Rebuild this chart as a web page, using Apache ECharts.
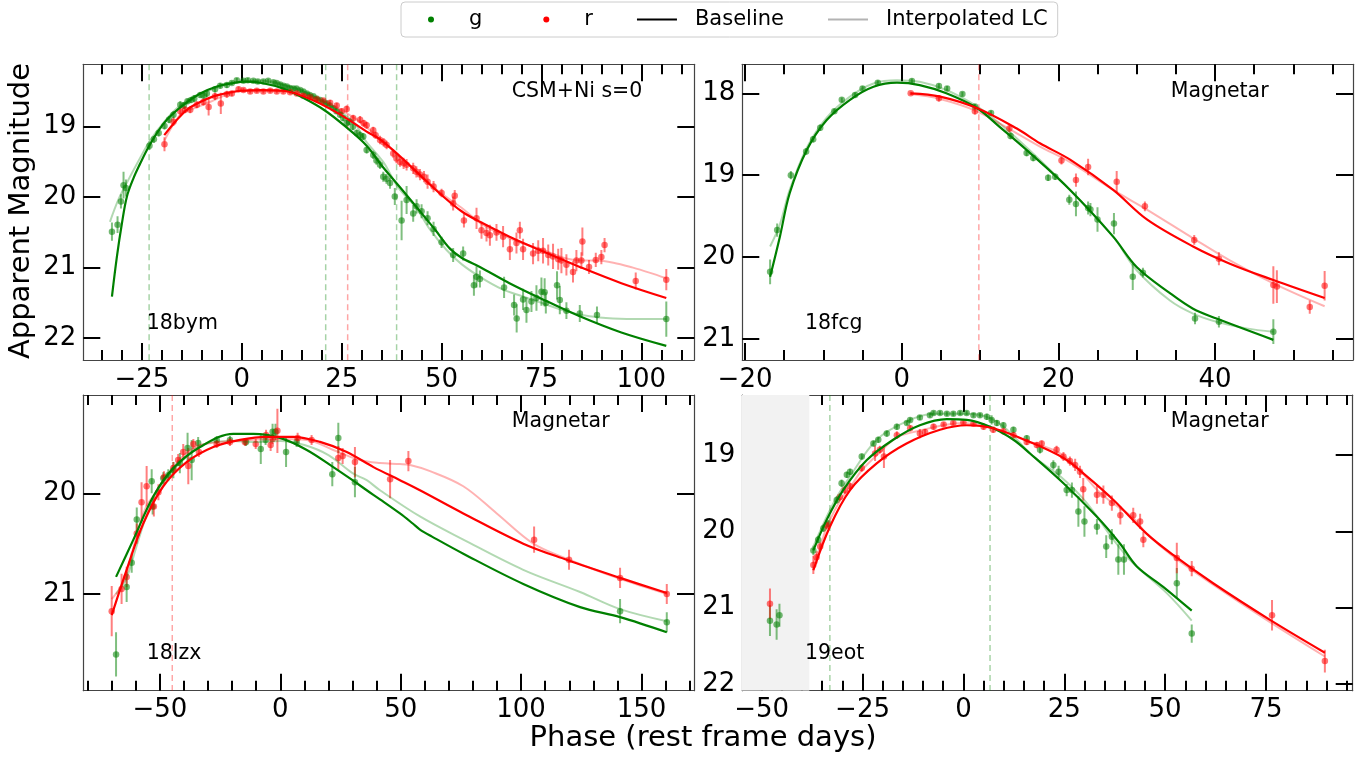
<!DOCTYPE html>
<html><head><meta charset="utf-8">
<script src="https://cdn.jsdelivr.net/npm/echarts@6.0.0/dist/echarts.min.js"></script>
<style>html,body{margin:0;padding:0;background:#fff}#c{width:1369px;height:760px}</style>
</head><body><div id="c"></div>
<script>
// ---------- DATA ----------
// points: [phase, magnitude, error]; curves: [phase, magnitude]
const p1_g = [[-32.5,20.49,0.13],[-31.1,20.39,0.12],[-30.25,20.06,0.1],[-29.6,19.83,0.19],[-29.0,19.87,0.12],[-23.1,19.27,0.06],[-22.0,19.18,0.05],[-20.8,19.09,0.05],[-19.35,18.99,0.05],[-18.2,18.9,0.05],[-17.1,18.83,0.05],[-15.4,18.69,0.05],[-14.5,18.7,0.05],[-13.6,18.64,0.04],[-12.7,18.62,0.04],[-11.9,18.6,0.05],[-10.4,18.55,0.04],[-9.5,18.56,0.04],[-8.75,18.53,0.05],[-6.7,18.47,0.04],[-5.4,18.42,0.04],[-3.75,18.41,0.04],[-2.5,18.38,0.03],[-1.25,18.34,0.03],[0.4,18.35,0.03],[1.5,18.34,0.03],[2.9,18.35,0.03],[4.0,18.36,0.03],[5.4,18.36,0.03],[6.6,18.35,0.03],[7.9,18.37,0.03],[8.7,18.38,0.03],[9.6,18.4,0.03],[10.4,18.42,0.03],[11.25,18.43,0.03],[12.0,18.45,0.03],[12.9,18.46,0.03],[13.7,18.46,0.03],[14.6,18.48,0.03],[15.4,18.5,0.03],[16.25,18.53,0.03],[17.0,18.55,0.03],[17.9,18.57,0.03],[18.7,18.6,0.03],[19.6,18.62,0.03],[20.4,18.65,0.03],[21.25,18.67,0.04],[22.0,18.7,0.04],[22.9,18.74,0.04],[23.7,18.78,0.04],[24.6,18.83,0.04],[25.4,18.88,0.04],[26.25,18.95,0.05],[26.9,18.93,0.05],[27.8,19.0,0.05],[28.75,19.09,0.05],[29.6,19.12,0.05],[30.4,19.14,0.05],[31.25,19.33,0.05],[32.9,19.4,0.06],[33.7,19.48,0.06],[34.6,19.54,0.06],[35.4,19.71,0.07],[36.2,19.74,0.07],[37.1,19.8,0.08],[38.3,19.99,0.12],[40.0,20.33,0.28],[41.25,20.04,0.2],[42.9,20.23,0.12],[43.75,20.13,0.1],[45.0,20.2,0.1],[46.5,20.3,0.1],[48.0,20.45,0.1],[50.0,20.64,0.08],[52.9,20.82,0.1],[55.4,20.8,0.1],[58.1,21.25,0.15],[58.75,21.13,0.15],[59.6,21.16,0.12],[65.65,21.28,0.15],[68.15,21.53,0.15],[68.8,21.72,0.2],[70.4,21.45,0.15],[71.25,21.6,0.18],[72.5,21.48,0.15],[73.75,21.43,0.18],[75.0,21.34,0.2],[75.8,21.35,0.2],[76.1,21.5,0.15],[78.9,21.25,0.2],[79.6,21.46,0.2],[81.25,21.61,0.12],[84.6,21.65,0.12],[88.9,21.67,0.12],[106.25,21.73,0.25]];
const p1_r = [[-19.35,19.25,0.1],[-17.1,18.93,0.06],[-15.4,18.78,0.05],[-14.2,18.76,0.05],[-12.9,18.76,0.05],[-11.25,18.69,0.05],[-9.6,18.65,0.05],[-8.3,18.72,0.12],[-6.7,18.57,0.05],[-5.25,18.67,0.15],[-3.75,18.54,0.05],[-2.5,18.53,0.04],[-0.8,18.47,0.04],[0.4,18.48,0.03],[2.1,18.5,0.03],[3.75,18.49,0.03],[5.4,18.5,0.03],[7.1,18.49,0.03],[8.75,18.5,0.03],[10.4,18.5,0.03],[12.1,18.51,0.03],[13.75,18.53,0.03],[15.4,18.56,0.03],[17.1,18.58,0.03],[18.75,18.61,0.03],[20.4,18.63,0.03],[22.1,18.66,0.04],[23.75,18.7,0.04],[25.0,18.78,0.04],[26.25,18.75,0.05],[27.9,18.88,0.05],[29.6,18.9,0.05],[30.5,18.95,0.05],[31.25,18.98,0.05],[32.9,19.05,0.05],[33.5,19.12,0.05],[34.6,19.19,0.06],[35.5,19.22,0.06],[36.25,19.26,0.06],[37.9,19.38,0.06],[38.7,19.45,0.07],[39.6,19.5,0.07],[40.5,19.52,0.08],[41.25,19.54,0.08],[42.9,19.59,0.08],[43.7,19.64,0.08],[44.6,19.68,0.08],[45.6,19.71,0.08],[46.5,19.78,0.1],[48.0,19.85,0.08],[50.0,19.94,0.06],[52.9,20.09,0.1],[53.3,19.98,0.08],[55.6,20.33,0.1],[58.75,20.3,0.15],[60.0,20.47,0.12],[61.25,20.51,0.12],[62.1,20.54,0.15],[63.75,20.5,0.12],[65.4,20.56,0.15],[67.1,20.74,0.15],[68.75,20.65,0.15],[69.6,20.47,0.12],[70.4,20.74,0.15],[72.9,20.8,0.15],[74.2,20.76,0.15],[75.4,20.76,0.18],[76.7,20.82,0.15],[77.9,20.84,0.18],[79.2,20.88,0.15],[80.0,20.9,0.18],[81.25,20.96,0.15],[82.9,21.06,0.15],[83.75,20.9,0.15],[85.0,20.9,0.12],[85.25,20.63,0.2],[86.9,20.99,0.1],[88.6,20.89,0.1],[90.0,20.85,0.1],[90.8,20.68,0.1],[98.6,21.19,0.12],[106.25,21.17,0.15]];
const p1_gBase = [[-32.5,21.41],[-31.25,20.84],[-30.0,20.37],[-28.75,19.99],[-27.1,19.73],[-25.4,19.52],[-23.75,19.33],[-21.25,19.09],[-18.75,18.9],[-14.6,18.69],[-10.4,18.53],[-6.25,18.43],[-2.1,18.38],[1,18.36],[5,18.38],[10.4,18.46],[15,18.58],[20.8,18.77],[26,19.0],[31.25,19.27],[35,19.55],[39.6,19.86],[44.6,20.2],[48.5,20.47],[52.1,20.73],[55,20.86],[59.6,20.99],[67,21.22],[74.6,21.43],[84.6,21.69],[95,21.92],[106.25,22.11]];
const p1_rBase = [[-19.4,19.12],[-16.5,18.92],[-13.75,18.76],[-10.4,18.65],[-7.1,18.57],[-3.5,18.52],[-0.25,18.49],[5,18.48],[10.4,18.49],[15,18.56],[19.6,18.67],[25,18.84],[31.25,19.07],[34.6,19.18],[39.6,19.42],[45,19.71],[49.6,19.95],[55,20.2],[59.6,20.35],[67,20.56],[74.6,20.75],[84.6,20.99],[95,21.22],[106.25,21.43]];
const p1_gInt = [[-33,20.35],[-31,20.05],[-29,19.82],[-26,19.5],[-23,19.2],[-20,18.97],[-16.25,18.74],[-12,18.57],[-7.9,18.48],[-4,18.4],[0.4,18.36],[5,18.35],[10,18.4],[14.6,18.48],[21.25,18.67],[27.9,18.93],[31,19.2],[35.4,19.5],[39,19.85],[43.75,20.16],[47,20.45],[51.25,20.75],[55,20.95],[59.6,21.13],[65,21.3],[70.4,21.41],[75,21.5],[81.25,21.62],[87,21.69],[92.9,21.72],[100,21.73],[106.25,21.73]];
const p1_rInt = [[-19.4,19.2],[-15,18.8],[-12,18.74],[-8,18.65],[-4,18.55],[0,18.49],[10,18.49],[20,18.63],[26,18.8],[30,18.95],[35,19.2],[40,19.45],[45,19.7],[50,19.95],[55,20.15],[60,20.38],[65,20.53],[70,20.65],[75,20.74],[81.25,20.87],[85,20.9],[88.75,20.9],[93,20.93],[97.9,21.0],[102,21.07],[106.25,21.15]];
const p1_vg = [-23.2, 21.0, 38.75];
const p1_vr = [26.5];

const p2_g = [[-16.8,20.18,0.15],[-15.9,19.67,0.08],[-14.15,19.0,0.05],[-12.2,18.71,0.04],[-11.3,18.56,0.04],[-10.4,18.42,0.04],[-8.6,18.22,0.03],[-7.65,18.08,0.03],[-5.95,18.02,0.03],[-5.0,17.94,0.03],[-3.05,17.87,0.03],[1.3,17.85,0.03],[4.75,17.91,0.03],[5.8,17.94,0.03],[7.75,18.01,0.03],[9.35,18.16,0.03],[11.4,18.24,0.03],[13.9,18.52,0.04],[15.95,18.73,0.04],[16.8,18.79,0.04],[18.7,19.03,0.04],[19.6,19.02,0.04],[21.4,19.3,0.06],[22.25,19.35,0.15],[23.8,19.4,0.08],[24.1,19.42,0.08],[25.0,19.54,0.15],[27.1,19.59,0.13],[29.5,20.24,0.16],[30.8,20.19,0.06],[37.45,20.75,0.07],[40.5,20.79,0.07],[47.45,20.91,0.15]];
const p2_r = [[1.15,18.0,0.02],[4.75,18.06,0.04],[9.35,18.22,0.04],[13.75,18.43,0.05],[20.4,18.82,0.05],[22.25,19.06,0.08],[23.8,18.9,0.1],[27.45,19.08,0.13],[31.05,19.38,0.06],[37.35,19.79,0.06],[40.5,20.02,0.08],[47.45,20.34,0.23],[47.9,20.36,0.2],[52.1,20.61,0.08],[54.0,20.35,0.18]];
const p2_gBase = [[-16.8,20.24],[-15.55,19.75],[-14.3,19.22],[-12.1,18.69],[-9.6,18.33],[-6.6,18.08],[-3.6,17.92],[-0.6,17.87],[2.3,17.9],[5.7,18.0],[9.6,18.18],[12.5,18.41],[16.4,18.73],[21.5,19.18],[27,19.75],[30,20.12],[34.25,20.44],[37.2,20.63],[40.2,20.75],[47.45,21.01]];
const p2_rBase = [[1.15,18.0],[4.9,18.04],[9.6,18.18],[14.7,18.43],[17.65,18.61],[21.5,18.81],[27,19.18],[31.3,19.54],[37.2,19.87],[41.9,20.08],[47.45,20.28],[54,20.5]];
const p2_gInt = [[-16.8,19.87],[-15.55,19.6],[-14.3,19.18],[-12.1,18.66],[-9.6,18.3],[-6.6,18.04],[-3.6,17.88],[-0.6,17.84],[2.3,17.86],[5.7,17.96],[9.6,18.16],[12.5,18.37],[16.4,18.7],[21.5,19.18],[27,19.75],[30,20.16],[34.25,20.53],[37.2,20.69],[40.2,20.79],[44,20.87],[47.45,20.91]];
const p2_rInt = [[1.15,18.01],[4.9,18.07],[9.6,18.22],[14.7,18.49],[17.65,18.65],[21.5,18.84],[27,19.18],[31.3,19.42],[37.2,19.77],[41.9,20.04],[47.45,20.32],[54,20.6]];
const p2_vg = [];
const p2_vr = [9.85];

const p3_g = [[-68.2,21.6,0.22],[-63.8,20.93,0.15],[-61.7,20.69,0.1],[-59.6,20.26,0.12],[-53.4,19.88,0.12],[-53.0,20.13,0.08],[-48.6,19.85,0.06],[-46.5,19.82,0.06],[-44.4,19.77,0.08],[-41.7,19.7,0.1],[-38.5,19.55,0.15],[-36.8,19.67,0.2],[-34.1,19.5,0.06],[-26.4,19.47,0.04],[-20.9,19.47,0.04],[-14.2,19.49,0.04],[-8.1,19.56,0.15],[-6.1,19.47,0.05],[-3.2,19.39,0.08],[-2.0,19.39,0.08],[2.4,19.59,0.15],[6.8,19.49,0.05],[21.6,19.81,0.12],[24.1,19.45,0.15],[31.0,19.89,0.15],[141.1,21.17,0.12],[160.5,21.28,0.1]];
const p3_r = [[-70,21.17,0.25],[-65.9,20.95,0.15],[-63.8,20.83,0.1],[-59.6,20.4,0.1],[-57.6,20.09,0.2],[-55.5,19.93,0.2],[-52.5,20.13,0.1],[-50.6,19.99,0.08],[-48.3,19.84,0.06],[-44.4,19.75,0.06],[-42.4,19.67,0.06],[-40.3,19.59,0.08],[-38.2,19.73,0.18],[-36.1,19.51,0.05],[-33.8,19.59,0.05],[-26.4,19.51,0.04],[-20.9,19.49,0.04],[-14.7,19.49,0.04],[-10.2,19.51,0.05],[-5.9,19.42,0.05],[-4.0,19.52,0.06],[-3.2,19.46,0.05],[-1.2,19.38,0.22],[7.2,19.45,0.05],[13.0,19.47,0.05],[24.1,19.65,0.12],[25.9,19.63,0.08],[31.0,19.69,0.15],[45.6,19.86,0.19],[53.2,19.68,0.1],[105.4,20.46,0.13],[119.9,20.66,0.1],[141.1,20.84,0.1],[160.5,21.0,0.1]];
const p3_gBase = [[-68.2,20.83],[-61,20.46],[-52.7,20.03],[-44.4,19.75],[-33.3,19.54],[-19.5,19.41],[-11.2,19.41],[-0.1,19.45],[11,19.57],[22,19.74],[30,19.87],[35.9,19.97],[41.4,20.06],[49.7,20.2],[55,20.3],[58,20.36],[63,20.43],[76,20.6],[100.9,20.9],[124.5,21.13],[141.1,21.23],[160.5,21.38]];
const p3_rBase = [[-70,21.21],[-63.8,20.76],[-56.9,20.3],[-48.6,19.93],[-38.9,19.69],[-27.8,19.54],[-16.7,19.47],[-5.6,19.44],[5.4,19.44],[16.5,19.49],[27.6,19.59],[38.7,19.74],[49.7,19.87],[58,19.97],[76,20.2],[100.9,20.5],[118.9,20.66],[141.1,20.84],[160.5,20.99]];
const p3_gInt = [[-68.2,21.0],[-64,20.85],[-60,20.55],[-56,20.25],[-52,20.02],[-48,19.87],[-44,19.76],[-40,19.66],[-35,19.55],[-30,19.5],[-20,19.48],[-10,19.49],[0,19.48],[10,19.52],[20,19.62],[30,19.8],[35.9,19.87],[41.4,19.97],[58,20.23],[76,20.46],[100.9,20.76],[124.5,20.98],[141.1,21.15],[160.5,21.27]];
const p3_rInt = [[-70,21.05],[-66,20.92],[-63.8,20.8],[-60,20.45],[-56,20.15],[-52,20.0],[-48,19.85],[-44,19.73],[-40,19.62],[-33.3,19.52],[-19.5,19.48],[-0.1,19.46],[11,19.47],[22,19.57],[33.1,19.67],[41.4,19.7],[49.7,19.71],[53.9,19.72],[62.2,19.78],[76,19.93],[89.9,20.2],[105.1,20.5],[118.9,20.65],[141.1,20.85],[160.5,21.0]];
const p3_vg = [];
const p3_vr = [-44.85];

const p4_g = [[-47.95,21.17,0.2],[-46.3,21.22,0.2],[-45.6,21.1,0.15],[-37.2,20.25,0.06],[-36.0,20.11,0.05],[-34.7,19.96,0.05],[-33.5,19.9,0.05],[-31.4,19.59,0.05],[-30.2,19.37,0.05],[-28.9,19.26,0.04],[-28.1,19.22,0.04],[-25.2,19.02,0.04],[-22.3,18.85,0.04],[-21.1,18.8,0.04],[-19.0,18.72,0.04],[-16.5,18.63,0.04],[-14.0,18.58,0.03],[-13.2,18.54,0.03],[-10.8,18.51,0.03],[-8.3,18.48,0.03],[-7.4,18.45,0.03],[-5.8,18.45,0.03],[-4.1,18.46,0.03],[-2.5,18.46,0.03],[-0.8,18.45,0.03],[0.8,18.45,0.03],[2.5,18.48,0.03],[4.1,18.48,0.03],[5.8,18.5,0.04],[7.0,18.54,0.06],[8.3,18.58,0.04],[9.9,18.61,0.04],[12.4,18.67,0.04],[15.7,18.78,0.04],[19.0,18.93,0.05],[22.3,19.13,0.06],[23.6,19.22,0.08],[25.6,19.46,0.08],[26.9,19.46,0.1],[28.5,19.74,0.2],[30.0,19.87,0.2],[33.1,19.94,0.1],[35.4,20.2,0.15],[36.8,20.07,0.1],[38.4,20.37,0.2],[39.8,20.37,0.2],[52.9,20.68,0.2],[56.6,21.34,0.12]];
const p4_r = [[-47.95,20.95,0.2],[-37.2,20.44,0.12],[-36.4,20.34,0.08],[-35.5,20.2,0.06],[-33.9,19.92,0.05],[-30.6,19.55,0.05],[-29.4,19.46,0.05],[-28.1,19.41,0.05],[-25.2,19.17,0.05],[-21.9,18.98,0.1],[-20.7,18.93,0.05],[-19.7,19.02,0.15],[-16.5,18.74,0.05],[-13.2,18.65,0.04],[-10.8,18.72,0.06],[-9.5,18.7,0.04],[-7.4,18.63,0.04],[-4.9,18.6,0.03],[-2.5,18.58,0.03],[0.0,18.57,0.03],[2.5,18.59,0.03],[5.0,18.63,0.04],[7.4,18.67,0.04],[9.9,18.69,0.04],[12.4,18.74,0.04],[15.7,18.83,0.04],[18.2,18.87,0.04],[19.4,18.85,0.04],[23.1,18.93,0.05],[24.8,19.02,0.06],[26.4,19.08,0.06],[27.7,19.13,0.08],[28.9,19.22,0.08],[29.7,19.45,0.15],[33.1,19.52,0.12],[34.7,19.52,0.12],[36.8,19.63,0.1],[38.9,19.79,0.12],[42.1,19.79,0.1],[43.8,19.87,0.1],[44.6,20.11,0.1],[52.9,20.35,0.2],[56.6,20.49,0.1],[76.5,21.1,0.2],[89.6,21.7,0.15]];
const p4_gBase = [[-37.2,20.25],[-33.9,19.85],[-29.8,19.46],[-24,19.07],[-17.4,18.8],[-10.8,18.61],[-4.1,18.53],[0.8,18.54],[6.6,18.63],[12.4,18.8],[16.5,18.98],[24.8,19.37],[33.1,19.81],[38.8,20.16],[43,20.46],[49.6,20.73],[56.6,21.04]];
const p4_rBase = [[-37.2,20.51],[-33.1,19.94],[-28.1,19.46],[-21.5,19.11],[-14.1,18.85],[-5.8,18.67],[0.8,18.61],[7.4,18.65],[16.5,18.83],[24.8,19.04],[30.6,19.28],[37.2,19.59],[45.4,20.03],[52,20.31],[61.9,20.68],[76,21.16],[89.6,21.59]];
const p4_gInt = [[-37.2,20.2],[-32.2,19.63],[-28.1,19.28],[-21.5,18.8],[-14.1,18.56],[-7.4,18.46],[0.8,18.46],[5.8,18.5],[10,18.63],[17.4,19.02],[24,19.28],[30.6,19.63],[37.2,20.11],[42.1,20.42],[50.4,20.81],[56.6,21.17]];
const p4_rInt = [[-37.2,20.42],[-35.5,20.2],[-33.9,19.95],[-30.6,19.6],[-28,19.42],[-25.2,19.2],[-21,18.98],[-16.5,18.77],[-10.8,18.68],[-5,18.61],[0,18.58],[5,18.62],[10,18.7],[16,18.82],[23,18.95],[28,19.15],[33,19.45],[37,19.63],[42,19.82],[45.4,20.03],[52,20.33],[61.9,20.7],[76,21.19],[89.6,21.64]];
const p4_vg = [-33.1, 6.6];
const p4_vr = [];
const p4_shade = [[-60, -38.2]];

const p1_xTicks = [-25,0,25,50,75,100], p1_yTicks = [19,20,21,22];
const p2_xTicks = [-20,0,20,40],        p2_yTicks = [18,19,20,21];
const p3_xTicks = [-50,0,50,100,150],   p3_yTicks = [20,21];
const p4_xTicks = [-50,-25,0,25,50,75], p4_yTicks = [19,20,21,22];

const names = ['18bym','18fcg','18lzx','19eot'];
const models = ['CSM+Ni s=0','Magnetar','Magnetar','Magnetar'];

// ---------- LAYOUT / STYLE ----------
const G = '#008000', R = '#ff0000';
const FONT = 'DejaVu Sans';
const panels = [
  {grid:{left:83.3,top:64.3,width:611,height:295.7}, xr:[-39.67,113.26], yr:[18.115,22.31], xT:p1_xTicks, minor:5, yT:p1_yTicks,
   g:p1_g, r:p1_r, gb:p1_gBase, rb:p1_rBase, gi:p1_gInt, ri:p1_rInt, vg:p1_vg, vr:p1_vr, shade:null,
   name:[146.7,325], model:[511.7,93.3]},
  {grid:{left:742.3,top:64.3,width:610.7,height:295.7}, xr:[-20.35,57.62], yr:[17.646,21.256], xT:p2_xTicks, minor:5, yT:p2_yTicks,
   g:p2_g, r:p2_r, gb:p2_gBase, rb:p2_rBase, gi:p2_gInt, ri:p2_rInt, vg:p2_vg, vr:p2_vr, shade:null,
   name:[805,325], model:[1170.7,93.3]},
  {grid:{left:83.3,top:395,width:610.7,height:295.7}, xr:[-81.8,171.8], yr:[19.024,21.96], xT:p3_xTicks, minor:10, yT:p3_yTicks,
   g:p3_g, r:p3_r, gb:p3_gBase, rb:p3_rBase, gi:p3_gInt, ri:p3_rInt, vg:p3_vg, vr:p3_vr, shade:null,
   name:[146.7,655], model:[511.7,423.3]},
  {grid:{left:742.3,top:395,width:610.4,height:295.7}, xr:[-54.81,96.5], yr:[18.214,22.088], xT:p4_xTicks, minor:5, yT:p4_yTicks,
   g:p4_g, r:p4_r, gb:p4_gBase, rb:p4_rBase, gi:p4_gInt, ri:p4_rInt, vg:p4_vg, vr:p4_vr, shade:p4_shade,
   name:[805,655], model:[1170.7,423.3]}
];

const fmt = v => (v < 0 ? '\u2212' + Math.abs(v) : String(v));
const frame = {show:true, onZero:false, lineStyle:{color:'#444', width:1.2}};
const noLine = {show:false, onZero:false};
const grids = [], xAxes = [], yAxes = [], series = [], graphics = [];

panels.forEach((p, i) => {
  grids.push(p.grid);
  const minors = [];
  for (let v = Math.ceil(p.xr[0]/p.minor)*p.minor; v <= p.xr[1]; v += p.minor) minors.push(v);
  const base = {type:'value', gridIndex:i, min:p.xr[0], max:p.xr[1], splitLine:{show:false}};
  const major = {show:true, inside:true, length:17, lineStyle:{color:'#000', width:2}};
  const minor = {show:true, inside:true, length:10, lineStyle:{color:'#000', width:2}};
  xAxes.push(Object.assign({}, base, {position:'bottom', axisLine:frame,
    axisTick:Object.assign({customValues:p.xT}, major),
    axisLabel:{show:true, customValues:p.xT, formatter:fmt, fontSize:26, fontFamily:FONT, color:'#000', margin:7}}));
  xAxes.push(Object.assign({}, base, {position:'bottom', axisLine:noLine,
    axisTick:Object.assign({customValues:minors}, minor), axisLabel:{show:false}}));
  xAxes.push(Object.assign({}, base, {position:'top', axisLine:frame,
    axisTick:Object.assign({customValues:p.xT}, major), axisLabel:{show:false}}));
  xAxes.push(Object.assign({}, base, {position:'top', axisLine:noLine,
    axisTick:Object.assign({customValues:minors}, minor), axisLabel:{show:false}}));
  const ybase = {type:'value', gridIndex:i, min:p.yr[0], max:p.yr[1], inverse:true, splitLine:{show:false}};
  yAxes.push(Object.assign({}, ybase, {position:'left', axisLine:frame,
    axisTick:Object.assign({customValues:p.yT}, major),
    axisLabel:{show:true, customValues:p.yT, formatter:fmt, fontSize:26, fontFamily:FONT, color:'#000', margin:7}}));
  yAxes.push(Object.assign({}, ybase, {position:'right', axisLine:frame,
    axisTick:Object.assign({customValues:p.yT}, major), axisLabel:{show:false}}));

  const xi = 4*i, yi = 2*i;
  const yTop = p.yr[0];
  if (p.shade) {
    series.push({type:'custom', xAxisIndex:xi, yAxisIndex:yi, z:1, silent:true, clip:true,
      data:p.shade, encode:{x:[0,1]},
      renderItem:(params, api) => {
        const cs = params.coordSys;
        const a = api.coord([api.value(0), yTop])[0], b = api.coord([api.value(1), yTop])[0];
        return {type:'rect', shape:{x:a, y:cs.y, width:b-a, height:cs.height}, style:{fill:'#f2f2f2'}};
      }});
  }
  [[p.vg, G], [p.vr, R]].forEach(([vals, col]) => {
    if (!vals.length) return;
    series.push({type:'custom', xAxisIndex:xi, yAxisIndex:yi, z:2, silent:true, clip:true,
      data:vals.map(v => [v]), encode:{x:0},
      renderItem:(params, api) => {
        const cs = params.coordSys;
        const x = api.coord([api.value(0), yTop])[0];
        return {type:'line', shape:{x1:x, y1:cs.y, x2:x, y2:cs.y+cs.height},
          style:{stroke:col, lineWidth:1.5, lineDash:[6,4], opacity:0.35}};
      }});
  });
  [[p.g, G, 'g'], [p.r, R, 'r']].forEach(([pts, col, nm]) => {
    series.push({type:'custom', name:nm+'err', xAxisIndex:xi, yAxisIndex:yi, z:3, silent:true, clip:true,
      data:pts, encode:{x:0, y:1},
      renderItem:(params, api) => {
        const x = api.value(0), y = api.value(1), e = api.value(2);
        const a = api.coord([x, y-e]), b = api.coord([x, y+e]);
        return {type:'line', shape:{x1:a[0], y1:a[1], x2:b[0], y2:b[1]},
          style:{stroke:col, lineWidth:2, opacity:0.5}};
      }});
    series.push({type:'scatter', name:nm, xAxisIndex:xi, yAxisIndex:yi, z:4, silent:true,
      data:pts.map(d => [d[0], d[1]]), symbol:'circle', symbolSize:6.5,
      itemStyle:{color:col, opacity:0.55}});
  });
  [[p.gi, G], [p.ri, R]].forEach(([ln, col]) => {
    series.push({type:'line', xAxisIndex:xi, yAxisIndex:yi, z:5, silent:true, data:ln,
      smooth:0.35, symbol:'none', showSymbol:false,
      lineStyle:{color:col, width:2, opacity:0.3}});
  });
  [[p.gb, G], [p.rb, R]].forEach(([ln, col]) => {
    series.push({type:'line', xAxisIndex:xi, yAxisIndex:yi, z:6, silent:true, data:ln,
      smooth:0.35, symbol:'none', showSymbol:false,
      lineStyle:{color:col, width:2.2}});
  });
  graphics.push({type:'text', left:p.name[0], top:p.name[1]-12, z:10,
    style:{text:names[i], font:'20.5px "DejaVu Sans"', fill:'#000'}});
  graphics.push({type:'text', left:p.model[0], top:p.model[1]-12, z:10,
    style:{text:models[i], font:'20.5px "DejaVu Sans"', fill:'#000'}});
});

// legend-only series
series.push({type:'line', name:'Baseline', xAxisIndex:0, yAxisIndex:0, data:[], symbol:'none',
  lineStyle:{color:'#000', width:2}, itemStyle:{color:'#000'}});
series.push({type:'line', name:'Interpolated LC', xAxisIndex:0, yAxisIndex:0, data:[], symbol:'none',
  lineStyle:{color:'#b3b3b3', width:2}, itemStyle:{color:'#b3b3b3'}});

graphics.push({type:'text', x:21.5, y:211, rotation:Math.PI/2, z:10,
  style:{text:'Apparent Magnitude', font:'29px "DejaVu Sans"', fill:'#000', align:'center', verticalAlign:'middle'}});
graphics.push({type:'text', x:703, y:738, z:10,
  style:{text:'Phase (rest frame days)', font:'29px "DejaVu Sans"', fill:'#000', align:'center', verticalAlign:'middle'}});

// legend icons: 53px wide box (40px mark + 13px gap), 6px tall
const DOT = 'path://M0,3L0,3M53,3L53,3M17,3A3,3,0,1,1,23,3A3,3,0,1,1,17,3Z';
const BAR = 'path://M0,0L0,0M53,6L53,6M0,2H40V4H0Z';

const chart = echarts.init(document.getElementById('c'), null, {renderer:'canvas'});
chart.setOption({
  animation:false,
  backgroundColor:'#fff',
  textStyle:{fontFamily:FONT},
  grid:grids, xAxis:xAxes, yAxis:yAxes, series:series, graphic:graphics,
  legend:{left:401, top:2, padding:[6,10,6,10], itemWidth:53, itemHeight:6, itemGap:44,
    borderColor:'#cccccc', borderWidth:1, borderRadius:4, backgroundColor:'#fff',
    selectedMode:false, symbolKeepAspect:true,
    textStyle:{fontSize:21, fontFamily:FONT, color:'#000', lineHeight:23},
    data:[{name:'g', icon:DOT, itemStyle:{color:G, opacity:1}},
          {name:'r', icon:DOT, itemStyle:{color:R, opacity:1}},
          {name:'Baseline', icon:BAR, itemStyle:{color:'#000', opacity:1}},
          {name:'Interpolated LC', icon:BAR, itemStyle:{color:'#b3b3b3', opacity:1}}]}
});
</script></body></html>
